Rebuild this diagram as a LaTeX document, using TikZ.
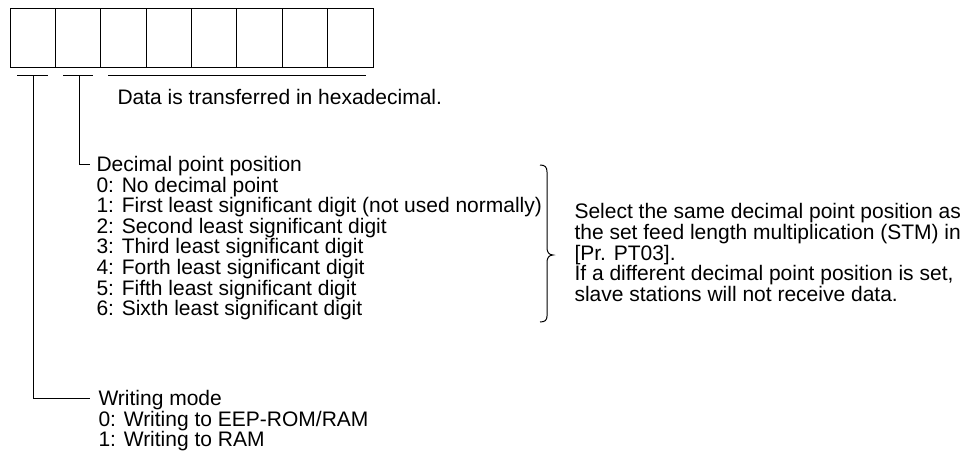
\documentclass[tikz,border=0pt]{standalone}
\usepackage{fontspec}
\setmainfont{Liberation Sans}
\begin{document}
\begin{tikzpicture}[x=1pt,y=-1pt,line width=1pt,
  txt/.style={anchor=base west,inner sep=0pt,font=\fontsize{21}{20.6}\selectfont},
  cell/.style={draw,line width=1pt,minimum width=45.375pt,minimum height=59pt,inner sep=0pt,outer sep=0pt}]
\useasboundingbox (0,0) rectangle (979,461);
% register cells
\foreach \i in {0,...,7}{
  \node[cell] (c\i) at ({10+45.375*(\i+0.5)},37.5) {};
}
% bars
\draw (17,75) -- (48,75);
\draw (63,75) -- (93,75);
\draw (108,75) -- (366,75);
% texts
\node[txt] (data) at (117,104.5) {Data is transferred in hexadecimal.};
\node[txt] (dp) at (96,171.5) {Decimal point position};
\node[txt] (dp0) at (96,192.1) {0: No decimal point};
\node[txt] (dp1) at (96,212.7) {1: First least significant digit (not used normally)};
\node[txt] (dp2) at (96,233.3) {2: Second least significant digit};
\node[txt] (dp3) at (96,253.9) {3: Third least significant digit};
\node[txt] (dp4) at (96,274.5) {4: Forth least significant digit};
\node[txt] (dp5) at (96,295.1) {5: Fifth least significant digit};
\node[txt] (dp6) at (96,315.7) {6: Sixth least significant digit};
\node[txt] (wm) at (98,405.5) {Writing mode};
\node[txt] (wm0) at (98,426.1) {0: Writing to EEP-ROM/RAM};
\node[txt] (wm1) at (98,446.7) {1: Writing to RAM};
\node[txt] (n1) at (574,218.5) {Select the same decimal point position as};
\node[txt] (n2) at (574,239.3) {the set feed length multiplication (STM) in};
\node[txt] (n3) at (574,260.1) {[Pr. PT03].};
\node[txt] (n4) at (574,280.9) {If a different decimal point position is set,};
\node[txt] (n5) at (574,301.7) {slave stations will not receive data.};
% leader lines
\coordinate (dpend) at (90,164);
\coordinate (wmend) at (90,398);
\draw (79,75) |- (dpend);
\draw (33,75) |- (wmend);
% brace
\draw (540,165) .. controls (545,165) and (547,167) .. (547,172) -- (547,248)
  .. controls (547,252) and (549,255) .. (553,255)
  .. controls (549,255) and (547,258) .. (547,262) -- (547,316)
  .. controls (547,320) and (545,322) .. (540,322);
\end{tikzpicture}
\end{document}
